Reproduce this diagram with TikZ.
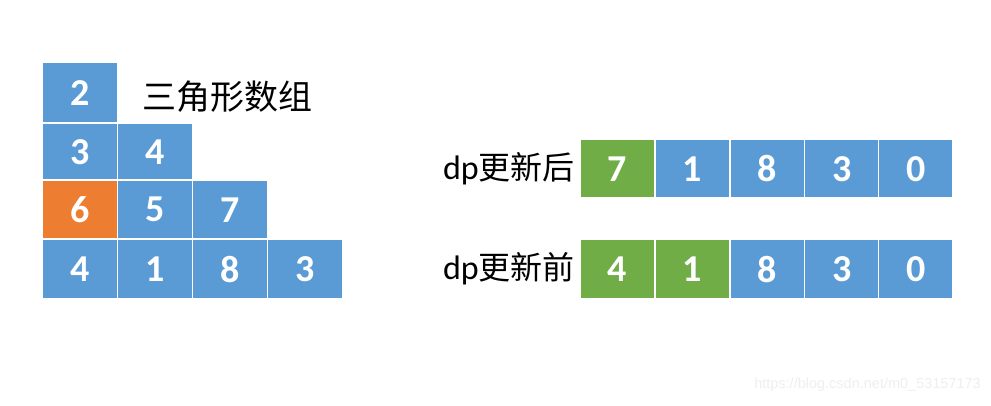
\documentclass[tikz,border=0pt]{standalone}
\usepackage{fontspec}
\setmainfont{Carlito}
\newfontfamily\cjk{Noto Sans CJK SC}
\newfontfamily\wmfont{Liberation Sans}
\definecolor{cblue}{HTML}{5B9BD5}
\definecolor{corange}{HTML}{ED7D31}
\definecolor{cgreen}{HTML}{70AD47}
\definecolor{wmgray}{HTML}{EFEFEF}
\begin{document}
\begin{tikzpicture}[x=1pt,y=-1pt,
  cell/.style={anchor=north west, inner sep=0pt, minimum width=74pt,
    text=white, font=\fontsize{38}{40}\selectfont\bfseries},
  rcell/.style={cell, minimum width=73pt},
  lab/.style={inner sep=0pt, font=\fontsize{34}{38}\selectfont}]
\useasboundingbox[fill=white] (0,0) rectangle (991,405);
% triangle
\node[cell, fill=cblue, minimum height=59pt] (t11) at (43,63) {2};
\node[cell, fill=cblue, minimum height=55pt] (t21) at (43,124) {3};
\node[cell, fill=cblue, minimum height=55pt] (t22) at (118,124) {4};
\node[cell, fill=corange, minimum height=57pt] (t31) at (43,181) {6};
\node[cell, fill=cblue, minimum height=57pt] (t32) at (118,181) {5};
\node[cell, fill=cblue, minimum height=57pt] (t33) at (193,181) {7};
\node[cell, fill=cblue, minimum height=58pt] (t41) at (43,240) {4};
\node[cell, fill=cblue, minimum height=58pt] (t42) at (118,240) {1};
\node[cell, fill=cblue, minimum height=58pt] (t43) at (193,240) {8};
\node[cell, fill=cblue, minimum height=58pt] (t44) at (268,240) {3};
\node[lab, anchor=west, font=\cjk\fontsize{34}{38}\selectfont] (title) at (142,97) {三角形数组};
% dp after
\node[lab, anchor=east] (after) at (575,169) {dp{\cjk\fontsize{32}{36}\selectfont 更新后}};
\node[rcell, fill=cgreen, minimum height=57pt] (a1) at (580.5,140) {7};
\node[rcell, fill=cblue, minimum height=57pt] (a2) at (655.5,140) {1};
\node[rcell, fill=cblue, minimum height=57pt] (a3) at (730.5,140) {8};
\node[rcell, fill=cblue, minimum height=57pt] (a4) at (805,140) {3};
\node[rcell, fill=cblue, minimum height=57pt] (a5) at (879,140) {0};
% dp before
\node[lab, anchor=east] (before) at (575,269) {dp{\cjk\fontsize{32}{36}\selectfont 更新前}};
\node[rcell, fill=cgreen, minimum height=58pt] (b1) at (580.5,240) {4};
\node[rcell, fill=cgreen, minimum height=58pt] (b2) at (655.5,240) {1};
\node[rcell, fill=cblue, minimum height=58pt] (b3) at (730.5,240) {8};
\node[rcell, fill=cblue, minimum height=58pt] (b4) at (805,240) {3};
\node[rcell, fill=cblue, minimum height=58pt] (b5) at (879,240) {0};
% watermark
\node[inner sep=0pt, anchor=east, text=wmgray, font=\wmfont\fontsize{14.5}{16}\selectfont] (wm) at (981,385) {https://blog.csdn.net/m0\_53157173};
\end{tikzpicture}
\end{document}
